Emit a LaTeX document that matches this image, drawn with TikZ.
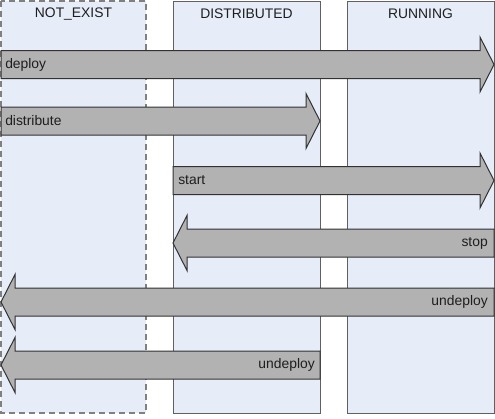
\documentclass[tikz,border=0pt]{standalone}
\usepackage{fontspec}
\setmainfont{Liberation Sans}
\usepackage{tikz}

\definecolor{lanefill}{RGB}{230,237,248}
\definecolor{laneline}{RGB}{96,96,96}
\definecolor{arrowfill}{RGB}{178,178,178}
\definecolor{arrowline}{RGB}{50,50,50}
\definecolor{labeltext}{RGB}{30,30,30}

\tikzset{
  lane/.style={fill=lanefill, draw=laneline, line width=0.75pt},
  lanedashed/.style={fill=lanefill, draw=laneline!80, line width=1.5pt, dash pattern=on 4.5pt off 3pt},
  blockarrow/.style={fill=arrowfill, draw=arrowline, line width=0.75pt, line join=miter},
  lbl/.style={inner sep=0pt, text=labeltext, font=\fontsize{10.4}{12}\selectfont},
  title/.style={inner sep=0pt, text=labeltext, font=\fontsize{10.4}{12}\selectfont}
}

% block arrows: from, to, y
\newcommand{\blockright}[3]{\draw[blockarrow] (#1,#3-14) -- (#2-14,#3-14) -- (#2-14,#3-27.5) -- (#2,#3) -- (#2-14,#3+27.5) -- (#2-14,#3+14) -- (#1,#3+14) -- cycle;}
\newcommand{\blockleft}[3]{\draw[blockarrow] (#2,#3-14) -- (#1+14,#3-14) -- (#1+14,#3-27.5) -- (#1,#3) -- (#1+14,#3+27.5) -- (#1+14,#3+14) -- (#2,#3+14) -- cycle;}

\begin{document}
\begin{tikzpicture}[x=0.75pt, y=-0.75pt]
\useasboundingbox (0,0) rectangle (495,418);
% lanes
\draw[lanedashed] (1,1) rectangle (146,413);
\draw[lane] (173,1) rectangle (320,413);
\draw[lane] (347,1) rectangle (494,413);
\node[title] (notexist) at (73.5,14) {NOT\_EXIST};
\node[title] (distributed) at (246.5,14) {DISTRIBUTED};
\node[title] (running) at (420.5,14) {RUNNING};
% transitions
\blockright{1}{494}{64.5}
\blockright{1}{320}{121}
\blockright{173}{494}{180.5}
\blockleft{173}{494}{243}
\blockleft{1}{494}{302}
\blockleft{1}{320}{365}
\node[lbl, anchor=west] (deploy) at (5,64.5) {deploy};
\node[lbl, anchor=west] (distribute) at (5,121) {distribute};
\node[lbl, anchor=west] (start) at (178,180.5) {start};
\node[lbl, anchor=east] (stop) at (488,243) {stop};
\node[lbl, anchor=east] (undeployrun) at (488,302) {undeploy};
\node[lbl, anchor=east] (undeploydist) at (315,365) {undeploy};
\end{tikzpicture}
\end{document}
